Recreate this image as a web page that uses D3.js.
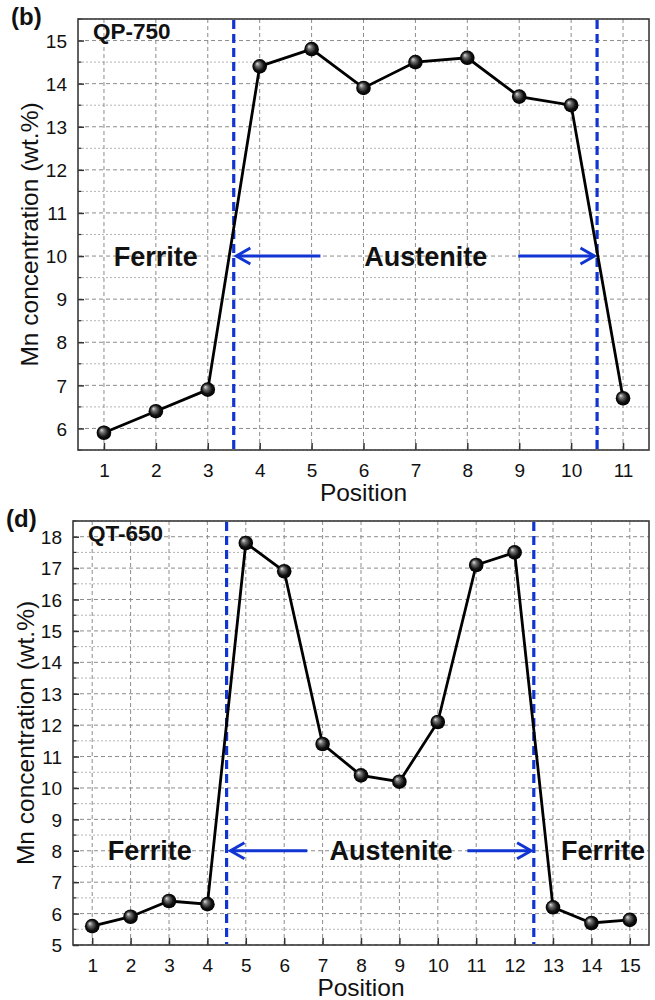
<!DOCTYPE html>
<html>
<head>
<meta charset="utf-8">
<script src="https://cdn.jsdelivr.net/npm/d3@7"></script>
<style>
  body { margin: 0; background: #fff; }
  svg text { font-family: Arial, "Liberation Sans", sans-serif; }
  .grid-major { stroke: #8c8c8c; stroke-width: 1; stroke-dasharray: 4,3; }
  .grid-minor { stroke: #b5b5b5; stroke-width: 1; stroke-dasharray: 2,2; }
  .boundary { stroke: #1035d2; stroke-width: 3.2; stroke-dasharray: 9,5; }
  .arrow { stroke: #1035d2; stroke-width: 3; fill: none; }
</style>
</head>
<body>
<svg id="chart" width="655" height="1000"></svg>
<script>
// panel (b) QP-750
var positionsB = [1, 2, 3, 4, 5, 6, 7, 8, 9, 10, 11]
var mnB = [5.9, 6.4, 6.9, 14.4, 14.8, 13.9, 14.5, 14.6, 13.7, 13.5, 6.7]
var boundsB = [3.5, 10.5]
var yTicksB = [6, 7, 8, 9, 10, 11, 12, 13, 14, 15]

// panel (d) QT-650
var positionsD = [1, 2, 3, 4, 5, 6, 7, 8, 9, 10, 11, 12, 13, 14, 15]
var mnD = [5.6, 5.9, 6.4, 6.3, 17.8, 16.9, 11.4, 10.4, 10.2, 12.1, 17.1, 17.5, 6.2, 5.7, 5.8]
var boundsD = [4.5, 12.5]
var yTicksD = [5, 6, 7, 8, 9, 10, 11, 12, 13, 14, 15, 16, 17, 18]

var svg = d3.select("#chart")

var defs = svg.append("defs")
var grad = defs.append("radialGradient")
    .attr("id", "ball")
    .attr("cx", "50%").attr("cy", "50%").attr("r", "50%")
    .attr("fx", "32%").attr("fy", "30%")
grad.append("stop").attr("offset", "0%").attr("stop-color", "#e0e0e0")
grad.append("stop").attr("offset", "30%").attr("stop-color", "#707070")
grad.append("stop").attr("offset", "70%").attr("stop-color", "#111")
grad.append("stop").attr("offset", "100%").attr("stop-color", "#000")

function drawPanel(p) {
    var g = svg.append("g")
    var x = d3.scaleLinear().domain(p.xDomain).range([p.left, p.right])
    var y = d3.scaleLinear().domain(p.yDomain).range([p.bottom, p.top])

    var yMinor = d3.range(p.yDomain[0], p.yDomain[1] + 0.01, 0.5).filter(v => v % 1 != 0)

    // grid
    g.selectAll(".gmin").data(yMinor).enter().append("line")
        .attr("class", "grid-minor")
        .attr("x1", p.left).attr("x2", p.right)
        .attr("y1", d => y(d)).attr("y2", d => y(d))
    g.selectAll(".gmaj").data(p.yTicks).enter().append("line")
        .attr("class", "grid-major")
        .attr("x1", p.left).attr("x2", p.right)
        .attr("y1", d => y(d)).attr("y2", d => y(d))
    g.selectAll(".gx").data(p.positions).enter().append("line")
        .attr("class", "grid-major")
        .attr("y1", p.top).attr("y2", p.bottom)
        .attr("x1", d => x(d)).attr("x2", d => x(d))

    // axes, ticks pointing inward
    var xAxis = g.append("g")
        .attr("transform", "translate(0," + p.bottom + ")")
        .call(d3.axisTop(x).tickValues(p.positions).tickSize(7).tickFormat(d3.format("d")))
    xAxis.select(".domain").remove()
    xAxis.selectAll("line").attr("stroke", "#333").attr("stroke-width", 1.5)
    xAxis.selectAll("text").attr("y", 27).attr("dy", 0).attr("font-size", 19).attr("fill", "#111")

    var yAxis = g.append("g")
        .attr("transform", "translate(" + p.left + ",0)")
        .call(d3.axisRight(y).tickValues(p.yTicks).tickSize(6).tickFormat(d3.format("d")))
    yAxis.select(".domain").remove()
    yAxis.selectAll("line").attr("stroke", "#333").attr("stroke-width", 1.5)
    yAxis.selectAll("text").attr("x", -11).attr("text-anchor", "end").attr("dy", "0.35em")
        .attr("font-size", 19).attr("fill", "#111")

    g.selectAll(".ymt").data(yMinor).enter().append("line")
        .attr("x1", p.left).attr("x2", p.left + 3.5)
        .attr("y1", d => y(d)).attr("y2", d => y(d))
        .attr("stroke", "#333").attr("stroke-width", 1.2)

    g.append("rect")
        .attr("x", p.left).attr("y", p.top)
        .attr("width", p.right - p.left).attr("height", p.bottom - p.top)
        .attr("fill", "none").attr("stroke", "#3a3a3a").attr("stroke-width", 1.6)

    // phase boundaries
    g.selectAll(".bd").data(p.bounds).enter().append("line")
        .attr("class", "boundary")
        .attr("x1", d => x(d)).attr("x2", d => x(d))
        .attr("y1", p.top + 1).attr("y2", p.bottom - 1)

    // arrows
    p.arrows.forEach(a => {
        var x0 = x(a[0]), x1 = x(a[1]), yy = y(p.arrowY)
        var dir = x1 > x0 ? 1 : -1
        g.append("line").attr("class", "arrow")
            .attr("x1", x0).attr("x2", x1 - dir * 2).attr("y1", yy).attr("y2", yy)
        g.append("path").attr("class", "arrow")
            .attr("stroke-width", 2.2)
            .attr("d", "M" + (x1 - dir * 14) + "," + (yy - 8) + "L" + x1 + "," + yy + "L" + (x1 - dir * 14) + "," + (yy + 8))
    })

    // phase labels
    p.labels.forEach(l => {
        g.append("text")
            .attr("x", x(l[1])).attr("y", y(p.arrowY)).attr("dy", "0.36em")
            .attr("text-anchor", "middle")
            .attr("font-size", 27).attr("font-weight", "bold").attr("fill", "#111")
            .text(l[0])
    })

    // profile line and balls
    var pts = p.positions.map((d, i) => [d, p.values[i]])
    g.append("path").datum(pts)
        .attr("fill", "none").attr("stroke", "#000").attr("stroke-width", 2.8)
        .attr("d", d3.line().x(d => x(d[0])).y(d => y(d[1])))
    g.selectAll(".ball").data(pts).enter().append("circle")
        .attr("cx", d => x(d[0])).attr("cy", d => y(d[1]))
        .attr("r", 7.3).attr("fill", "url(#ball)")

    // titles
    g.append("text").attr("x", p.left + 15).attr("y", p.top + 20)
        .attr("font-size", 22.5).attr("font-weight", "bold").attr("fill", "#111").text(p.sample)
    g.append("text").attr("x", p.tagX).attr("y", p.top + 6)
        .attr("font-size", 24).attr("font-weight", "bold").attr("fill", "#111").text(p.tag)
    g.append("text")
        .attr("transform", "translate(" + p.yLabelX + "," + ((p.top + p.bottom) / 2) + ") rotate(-90)")
        .attr("text-anchor", "middle").attr("font-size", 24.5).attr("fill", "#111")
        .text("Mn concentration (wt.%)")
    g.append("text").attr("x", (p.left + p.right) / 2).attr("y", p.bottom + 51)
        .attr("text-anchor", "middle").attr("font-size", 24.5).attr("fill", "#111")
        .text("Position")
}

drawPanel({
    left: 78, right: 649, top: 19, bottom: 450,
    xDomain: [0.5, 11.5], yDomain: [5.5, 15.5],
    positions: positionsB, values: mnB, yTicks: yTicksB, bounds: boundsB,
    arrowY: 10, arrows: [[5.17, 3.55], [8.98, 10.45]],
    labels: [["Ferrite", 2.0], ["Austenite", 7.2]],
    sample: "QP-750", tag: "(b)", tagX: 11, yLabelX: 38
})

drawPanel({
    left: 73, right: 649, top: 521, bottom: 945,
    xDomain: [0.5, 15.5], yDomain: [5, 18.5],
    positions: positionsD, values: mnD, yTicks: yTicksD, bounds: boundsD,
    arrowY: 8, arrows: [[6.6, 4.6], [10.77, 12.43]],
    labels: [["Ferrite", 2.5], ["Austenite", 8.78], ["Ferrite", 14.3]],
    sample: "QT-650", tag: "(d)", tagX: 6, yLabelX: 34
})
</script>
</body>
</html>
